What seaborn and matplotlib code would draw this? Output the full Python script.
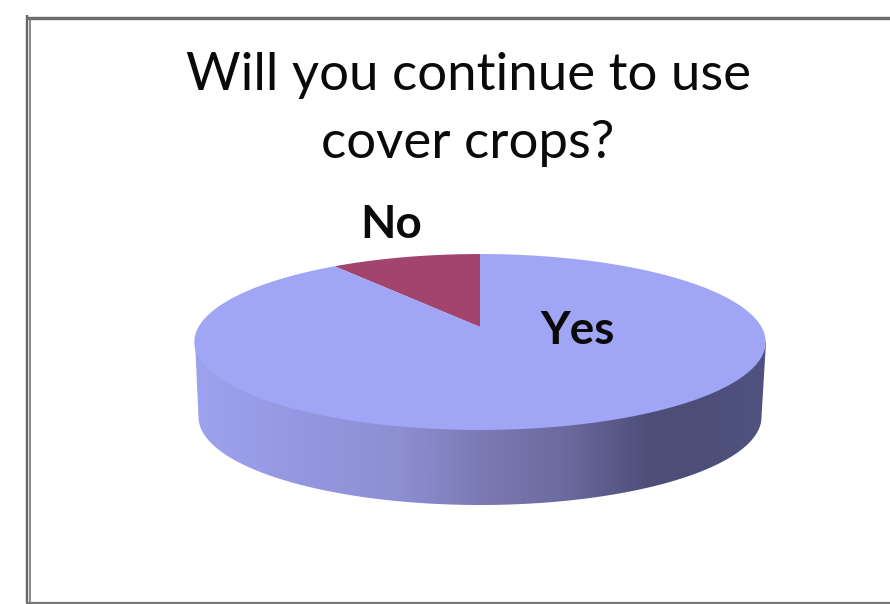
import numpy as np
import matplotlib
matplotlib.use("Agg")
import matplotlib.pyplot as plt
from matplotlib.colors import LinearSegmentedColormap
from matplotlib.path import Path
from matplotlib.patches import PathPatch
from matplotlib.transforms import Affine2D, Transform
import seaborn as sns

labels = ["No", "Yes"]
shares = [10, 90]
title_lines = ["Will you continue to use", "cover crops?"]
slice_colors = ["#a3446f", "#a0a5f6"]

sns.set_theme(style="white")
plt.rcParams["font.family"] = ["Lato", "DejaVu Sans"]


class Perspective(Transform):
    """Tilts the unit pie into the reference's perspective view (pixel space)."""
    input_dims = output_dims = 2
    has_inverse = False

    def transform_non_affine(self, values):
        values = np.asarray(values, float)
        u, v = values[:, 0], values[:, 1]
        w = 1 + 0.1705 * v
        return np.column_stack([480 + 281.5 * u / w, 327 - 85.4 * v / w])

    def transform_path_non_affine(self, path):
        # Flatten the curves finely first, so the rim stays smooth after the tilt
        big = path.transformed(Affine2D().scale(2000))
        fine = big.to_polygons(closed_only=True)[0] / 2000
        return Path(self.transform_non_affine(fine), closed=False)


fig = plt.figure(figsize=(8.9, 6.04), dpi=100, facecolor="white")
ax = fig.add_axes([0, 0, 1, 1])

# Side wall: silhouette of the extruded disc, shaded left to right
t = np.linspace(0, np.pi, 300)
front_x = 480 - 281.5 * np.cos(t)
front_y = 417 + 88 * np.sin(t)
wall = np.column_stack([
    np.r_[195, front_x, 766, 195],
    np.r_[342, front_y, 342, 342],
])
positions = [0.0, 0.18, 0.36, 0.50, 0.64, 0.80, 0.88, 1.0]
shades = ["#9ea2ee", "#9598e0", "#8d8fd2", "#7b7ab4", "#6c6ca0", "#4c4e78", "#4c4e78", "#50537f"]
cmap = LinearSegmentedColormap.from_list("wall", list(zip(positions, shades)))
gradient = np.linspace(0, 1, 600)[None, :]
image = ax.imshow(gradient, cmap=cmap, extent=(195, 766, 510, 300), aspect="auto",
                  interpolation="bilinear", zorder=1)
clip = PathPatch(Path(wall, closed=True), transform=ax.transData, fc="none", ec="none")
ax.add_patch(clip)
image.set_clip_path(clip)

# Top surface: a real pie, pushed through the perspective transform
wedges, _ = ax.pie(shares, colors=sns.color_palette(slice_colors), startangle=90,
                   counterclock=True, radius=1, wedgeprops={"linewidth": 0})
tilt = Perspective() + ax.transData
for wedge in wedges:
    wedge.set_transform(tilt)
    wedge.set_zorder(2)
    wedge.set_clip_on(False)

ax.set_aspect("auto")
ax.set_xlim(0, 890)
ax.set_ylim(604, 0)
ax.axis("off")

# Slice labels and title
label_spots = {"No": (391, 238), "Yes": (578, 344)}
for name in labels:
    x, y = label_spots[name]
    ax.text(x, y, name, ha="center", va="baseline", fontsize=33, fontweight="bold",
            color="#0a0a0a", zorder=3)
for line, y in zip(title_lines, (90, 158)):
    ax.text(468, y, line, ha="center", va="baseline", fontsize=38, color="#0a0a0a", zorder=3)

# Window frame
px = 0.72
frame = dict(solid_capstyle="butt", zorder=4)
ax.plot([27, 27], [15, 604], color="#666666", lw=2.4 * px, **frame)
ax.plot([30, 30], [19, 604], color="#8c8c8c", lw=2 * px, **frame)
ax.plot([26, 890], [17.5, 17.5], color="#6e6e6e", lw=3.4 * px, **frame)
ax.plot([26, 890], [603, 603], color="#777777", lw=2.2 * px, **frame)

fig.savefig("out.png", dpi=100, facecolor="white")
